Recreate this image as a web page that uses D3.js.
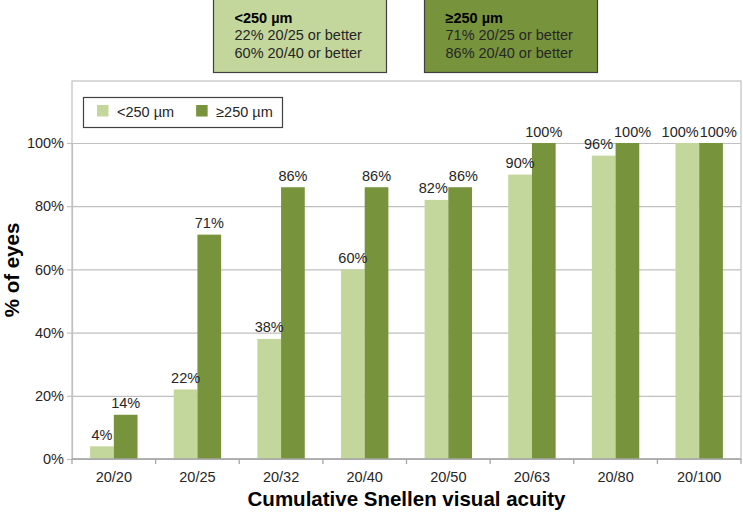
<!DOCTYPE html>
<html>
<head>
<meta charset="utf-8">
<script src="https://cdn.jsdelivr.net/npm/d3@7/dist/d3.min.js"></script>
<style>
  html, body { margin: 0; padding: 0; background: #fff; }
  svg { display: block; font-family: "Liberation Sans", Arial, sans-serif; }
</style>
</head>
<body>
<svg id="chart" width="743" height="512"></svg>
<script>
// ---- data ----
const categories = ["20/20", "20/25", "20/32", "20/40", "20/50", "20/63", "20/80", "20/100"];
const seriesNames = ["<250 µm", "≥250 µm"];
const smallValues = [4, 22, 38, 60, 82, 90, 96, 100];
const largeValues = [14, 71, 86, 86, 86, 100, 100, 100];
const yTicks = [0, 20, 40, 60, 80, 100];
const summarySmall = ["<250 µm", "22% 20/25 or better", "60% 20/40 or better"];
const summaryLarge = ["≥250 µm", "71% 20/25 or better", "86% 20/40 or better"];
const yTitle = "% of eyes";
const xTitle = "Cumulative Snellen visual acuity";

// ---- styles ----
const colors = ["#c3d69b", "#77933c"];
const textColor = "#262626";
const gridColor = "#c0c0c0";

const svg = d3.select("#chart");
const plot = { left: 72, right: 741, top: 81, bottom: 459, scaleTop: 143 };

const x = d3.scaleBand().domain(categories).range([plot.left, plot.right]).paddingInner(0.433).paddingOuter(0.2165);
const xs = d3.scaleBand().domain([0, 1]).range([0, x.bandwidth()]);
const y = d3.scaleLinear().domain([0, 100]).range([plot.bottom, plot.scaleTop]);

// plot frame (top / right / left)
svg.append("rect")
  .attr("x", plot.left).attr("y", plot.top)
  .attr("width", plot.right - plot.left).attr("height", plot.bottom - plot.top)
  .attr("fill", "none").attr("stroke", gridColor).attr("stroke-width", 1.2);

// gridlines + y axis
const yAxis = d3.axisLeft(y).tickValues(yTicks).tickFormat(d => d + "%")
  .tickSize(-(plot.right - plot.left)).tickPadding(8);
const gy = svg.append("g").attr("transform", `translate(${plot.left},0)`).call(yAxis);
gy.select(".domain").attr("stroke", gridColor).attr("stroke-width", 1.2);
gy.selectAll(".tick line").attr("stroke", gridColor).attr("stroke-width", 1.2);
gy.selectAll(".tick text").attr("fill", textColor).attr("font-size", "14.5px")
  .attr("font-family", "'Liberation Sans', Arial, sans-serif");
gy.selectAll(".tick").append("line").attr("x1", -5).attr("x2", 0)
  .attr("stroke", gridColor).attr("stroke-width", 1.2);

// bars
const seriesData = [smallValues, largeValues];
const groups = svg.append("g").selectAll("g").data(categories).join("g")
  .attr("transform", d => `translate(${x(d)},0)`);
seriesData.forEach((vals, si) => {
  groups.append("rect")
    .attr("x", xs(si)).attr("width", xs.bandwidth())
    .attr("y", (d, i) => y(vals[i]))
    .attr("height", (d, i) => y(0) - y(vals[i]))
    .attr("fill", colors[si]);
});

// x axis
const gx = svg.append("g").attr("transform", `translate(0,${plot.bottom})`);
gx.append("line").attr("x1", plot.left).attr("x2", plot.right).attr("y1", 0).attr("y2", 0)
  .attr("stroke", "#a6a6a6").attr("stroke-width", 1.3);
const step = x.step();
d3.range(categories.length + 1).forEach(i => {
  const xx = plot.left + i * step;
  gx.append("line").attr("x1", xx).attr("x2", xx).attr("y1", 0).attr("y2", 5)
    .attr("stroke", "#a6a6a6").attr("stroke-width", 1.3);
});
gx.selectAll("text.cat").data(categories).join("text").attr("class", "cat")
  .attr("x", d => x(d) + x.bandwidth() / 2).attr("y", 23)
  .attr("text-anchor", "middle").attr("font-size", "14.5px").attr("fill", textColor)
  .text(d => d);

// data labels with simple overlap avoidance
const labelG = svg.append("g").attr("font-size", "14.5px").attr("fill", textColor);
categories.forEach((c, i) => {
  const labs = seriesData.map((vals, si) => {
    const t = labelG.append("text")
      .attr("text-anchor", "middle")
      .attr("y", y(vals[i]) - 6.5)
      .text(vals[i] + "%");
    return { t, cx: x(c) + xs(si) + xs.bandwidth() / 2, w: t.node().getComputedTextLength(), yy: y(vals[i]) };
  });
  const [a, b] = labs;
  if (Math.abs(a.yy - b.yy) < 15) {
    const overlap = (a.cx + a.w / 2) - (b.cx - b.w / 2) + 1;
    if (overlap > 0) { a.cx -= overlap / 2; b.cx += overlap / 2; }
  }
  labs.forEach(l => l.t.attr("x", l.cx));
});

// axis titles
svg.append("text").attr("x", (plot.left + plot.right) / 2).attr("y", 506)
  .attr("text-anchor", "middle").attr("font-size", "20.5px").attr("font-weight", "bold")
  .attr("fill", "#000").text(xTitle);
svg.append("text").attr("transform", `translate(19,${(plot.top + plot.bottom) / 2}) rotate(-90)`)
  .attr("text-anchor", "middle").attr("font-size", "20.5px").attr("font-weight", "bold")
  .attr("fill", "#000").text(yTitle);

// legend
const leg = svg.append("g");
leg.append("rect").attr("x", 83.5).attr("y", 97.5).attr("width", 199).attr("height", 30)
  .attr("fill", "#fff").attr("stroke", "#404040").attr("stroke-width", 1.2);
let lx = 97;
seriesNames.forEach((n, si) => {
  leg.append("rect").attr("x", lx).attr("y", 105).attr("width", 11.5).attr("height", 11.5).attr("fill", colors[si]);
  const t = leg.append("text").attr("x", lx + 20).attr("y", 116.5).attr("font-size", "14.5px")
    .attr("fill", textColor).text(n);
  lx = lx + 20 + t.node().getComputedTextLength() + 22;
});

// summary boxes
const boxes = [{ x: 213.5, lines: summarySmall, fill: colors[0] }, { x: 424.5, lines: summaryLarge, fill: colors[1] }];
boxes.forEach(bx => {
  const g = svg.append("g");
  g.append("rect").attr("x", bx.x).attr("y", -2).attr("width", 173).attr("height", 74.5)
    .attr("fill", bx.fill).attr("stroke", "#404040").attr("stroke-width", 1.2);
  bx.lines.forEach((ln, li) => {
    g.append("text").attr("x", bx.x + 21).attr("y", 22.5 + li * 17.7)
      .attr("font-size", "14.5px").attr("font-weight", li === 0 ? "bold" : "normal")
      .attr("fill", li === 0 ? "#000" : textColor).text(ln);
  });
});
</script>
</body>
</html>
